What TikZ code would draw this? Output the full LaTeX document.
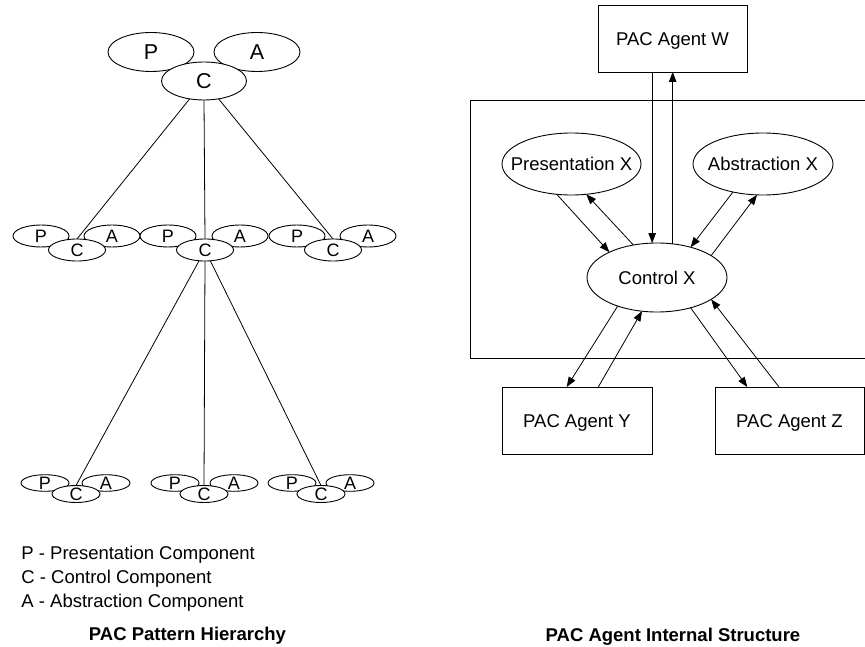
\documentclass[tikz,border=0pt]{standalone}
\usepackage{fontspec}
\setmainfont{Liberation Sans}
\usetikzlibrary{shapes.geometric,arrows.meta}
\newcommand{\pacbigfont}{\fontsize{21.5}{24}\selectfont}
\newcommand{\pacmidfont}{\fontsize{18}{20}\selectfont}
\newcommand{\pacnormfont}{\fontsize{18.5}{22}\selectfont}
\begin{document}
\begin{tikzpicture}[x=1pt,y=-1pt,line width=0.9pt,
  comp/.style={ellipse,draw,fill=white,inner sep=0pt,outer sep=0pt,line width=0.9pt},
  lbig/.style={comp,minimum width=86pt,minimum height=39pt},
  lmid/.style={comp,minimum width=56pt,minimum height=22pt},
  lsmall/.style={comp,minimum width=48pt,minimum height=16.6pt},
  rell/.style={comp,minimum width=139pt,minimum height=62pt},
  tbig/.style={inner sep=0pt,font=\pacbigfont,text height=15.4pt,text depth=0pt},
  tmid/.style={inner sep=0pt,font=\pacmidfont,text height=12.9pt,text depth=0pt},
  tnorm/.style={inner sep=0pt,font=\pacnormfont,text height=13.2pt,text depth=0pt},
  agent/.style={draw,fill=white,minimum width=149pt,minimum height=67pt,inner sep=0pt,outer sep=0pt,
     font=\pacnormfont,text height=13.2pt,text depth=0pt},
  txt/.style={inner sep=0pt,anchor=base west,font=\pacnormfont},
  ttl/.style={inner sep=0pt,anchor=base,font=\pacnormfont\bfseries},
  arr/.style={-{Triangle[length=10pt,width=7.5pt]},line width=0.8pt},
  link/.style={line width=0.8pt}
]
\useasboundingbox (0,0) rectangle (865,647);

% ---------- left: PAC pattern hierarchy ----------
\node[lbig] (p1) at (151,52) {};
\node[lbig] (a1) at (257,52) {};
\node[lbig,minimum width=85pt,minimum height=38pt] (c1) at (204,81) {};
\node[tbig] (p1t) at (p1) {P};
\node[tbig] (a1t) at (a1) {A};
\node[tbig] (c1t) at (c1) {C};

\node[lmid] (p2L) at (41,236) {};
\node[lmid] (a2L) at (112,236) {};
\node[lmid,minimum width=57pt] (c2L) at (77,250) {};
\node[lmid] (p2M) at (168,236) {};
\node[lmid] (a2M) at (240,236) {};
\node[lmid,minimum width=57pt] (c2M) at (205,250) {};
\node[lmid] (p2R) at (297,236) {};
\node[lmid] (a2R) at (368,236) {};
\node[lmid,minimum width=57pt] (c2R) at (333,250) {};
\foreach \g in {L,M,R}{
  \node[tmid] (p2\g t) at (p2\g) {P};
  \node[tmid] (a2\g t) at (a2\g) {A};
  \node[tmid] (c2\g t) at (c2\g) {C};
}

\node[lsmall] (p3L) at (45,483) {};
\node[lsmall] (a3L) at (106,483) {};
\node[lsmall,minimum height=17pt] (c3L) at (76,494) {};
\node[lsmall] (p3M) at (175,483) {};
\node[lsmall] (a3M) at (234,483) {};
\node[lsmall,minimum height=17pt] (c3M) at (204,494) {};
\node[lsmall] (p3R) at (292,483) {};
\node[lsmall] (a3R) at (350,483) {};
\node[lsmall,minimum height=17pt] (c3R) at (321,494) {};
\foreach \g in {L,M,R}{
  \node[tmid] (p3\g t) at (p3\g) {P};
  \node[tmid] (a3\g t) at (a3\g) {A};
  \node[tmid] (c3\g t) at (c3\g) {C};
}

\draw[link] (c1) -- (c2L.north);
\draw[link] (c1.south) -- (c2M.north);
\draw[link] (c1) -- (c2R.north);
\draw[link] (c2M) -- (c3L.north);
\draw[link] (c2M.south) -- (c3M.north);
\draw[link] (c2M) -- (c3R.north);

\node[txt] (lgP) at (21,559) {P - Presentation Component};
\node[txt] (lgC) at (21,583) {C - Control Component};
\node[txt] (lgA) at (21,607) {A - Abstraction Component};
\node[ttl] (t1) at (187.5,640) {PAC Pattern Hierarchy};

% ---------- right: PAC agent internal structure ----------
\draw (865,100) -- (470,100) -- (470,358) -- (865,358);

\node[agent] (W) at (672.5,38.5) {PAC Agent W};
\node[agent,minimum width=150pt] (Y) at (577,420.5) {PAC Agent Y};
\node[agent] (Z) at (789.5,420.5) {PAC Agent Z};

\node[rell] (pres) at (571.5,164) {};
\node[rell,minimum width=140pt] (abs) at (763,164) {};
\node[rell,minimum width=140pt,minimum height=69pt] (ctrl) at (657,277.5) {};
\node[tnorm] (prest) at (pres) {Presentation X};
\node[tnorm] (abst) at (abs) {Abstraction X};
\node[tnorm] (ctrlt) at (ctrl) {Control X};

\draw[arr] (W.south -| ctrl.98.8) -- (ctrl.98.8);
\draw[arr] (ctrl.65) -- (ctrl.65 |- W.south);

\draw[arr] (pres.-116.6) -- (ctrl.152.4);
\draw[arr] (ctrl.126.5) -- (pres.-64.6);

\draw[arr] (abs.-137) -- (ctrl.42.5);
\draw[arr] (ctrl.22) -- (abs.-101.5);

\draw[arr] (ctrl.-144) -- ([xshift=-10.3pt]Y.north);
\draw[arr] ([xshift=21.3pt]Y.north) -- (ctrl.-114);

\draw[arr] (ctrl.-42.4) -- ([xshift=-42.2pt]Z.north);
\draw[arr] ([xshift=-10.5pt]Z.north) -- (ctrl.-22);

\node[ttl] (t2) at (673,641) {PAC Agent Internal Structure};
\end{tikzpicture}
\end{document}
